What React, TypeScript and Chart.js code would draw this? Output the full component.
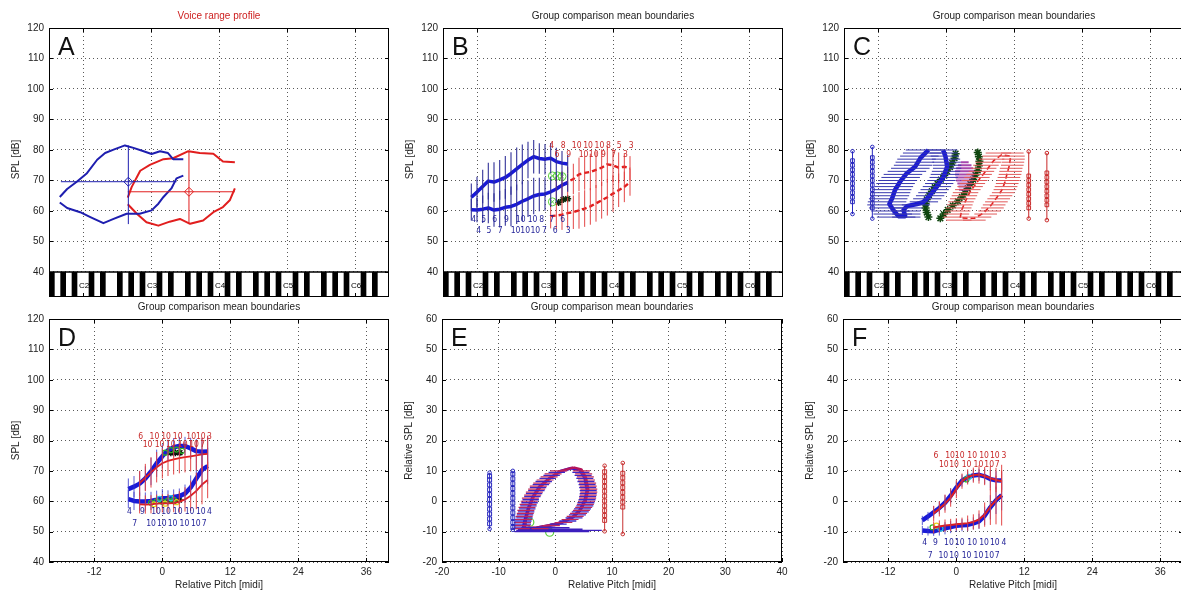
import React, { useEffect, useRef } from "react";
import { Chart, registerables } from "chart.js";

Chart.register(...registerables);

const FONT = '"Liberation Sans", Arial, Helvetica, sans-serif';
const NUM_FONT = '"Liberation Sans Narrow", "DejaVu Sans Condensed", "Liberation Sans", Arial, sans-serif';
const W = 1200;
const H = 594;

// ---------- tick labels / categories ----------
const PITCH_TICKS = [36, 48, 60, 72, 84];
const KEY_LABELS = ["C2", "C3", "C4", "C5", "C6"];
const SPL_TICKS = [40, 50, 60, 70, 80, 90, 100, 110, 120];
const REL_PITCH_TICKS = [-12, 0, 12, 24, 36];
const E_PITCH_TICKS = [-20, -10, 0, 10, 20, 30, 40];
const REL_SPL_TICKS = [-20, -10, 0, 10, 20, 30, 40, 50, 60];
const TITLE_A = "Voice range profile";
const TITLE_G = "Group comparison mean boundaries";

// ---------- Panel A ----------
const A_blueUpX = [31.9, 33.2, 34.9, 36.7, 38.5, 39.9, 41.4, 43.4, 44.9, 46.7, 48.1, 49.6, 51.0, 51.9, 53.7];
const A_blueUpY = [64.6, 67.2, 69.6, 72.4, 76.8, 79.0, 80.1, 81.5, 80.7, 79.6, 78.7, 79.6, 79.0, 77.0, 77.0];
const A_blueLoX = [31.9, 33.2, 35.5, 37.3, 39.6, 41.4, 43.7, 46.0, 48.1, 49.3, 50.2, 51.6, 52.5, 53.7];
const A_blueLoY = [62.8, 61.0, 59.6, 58.0, 56.0, 57.4, 59.1, 59.1, 60.2, 62.4, 64.6, 67.4, 70.7, 71.6];
const A_blueMean = [44.0, 69.6];
const A_blueRangeX = [32.1, 52.5];
const A_blueRangeY = [55.7, 81.5];
const A_redUpX = [43.9, 44.6, 46.1, 47.8, 50.2, 51.9, 54.6, 56.6, 59.0, 60.7, 62.8];
const A_redUpY = [64.4, 67.9, 73.2, 75.1, 77.0, 77.3, 79.6, 79.0, 78.8, 76.2, 76.0];
const A_redLoX = [43.9, 45.5, 47.2, 49.3, 51.3, 53.1, 54.9, 57.2, 59.0, 60.7, 61.9, 62.8];
const A_redLoY = [62.2, 59.1, 56.3, 55.2, 56.5, 57.4, 55.8, 56.9, 59.6, 61.3, 63.5, 67.4];
const A_redMean = [54.7, 66.3];
const A_redRangeX = [43.9, 62.8];
const A_redRangeY = [55.7, 79.6];

// ---------- Panel B ----------
const B_blueX = [35, 36, 37, 38, 39, 40, 41, 42, 43, 44, 45, 46, 47, 48, 49, 50, 51, 52];
const B_blueUp = [64.5, 66.2, 68.0, 69.8, 69.5, 70.2, 71.0, 72.3, 73.8, 75.3, 76.7, 77.8, 77.2, 77.0, 77.3, 76.2, 75.7, 75.4];
const B_blueLo = [60.4, 60.3, 60.6, 61.0, 60.3, 60.6, 61.2, 61.5, 62.2, 63.2, 64.0, 64.9, 65.4, 65.6, 66.3, 67.2, 68.5, 69.3];
const B_blueUpSd = [4.5, 5, 5.5, 6, 6.5, 6.5, 7, 7, 7, 6.5, 6, 5.5, 5, 5, 5, 4.5, 4, 3];
const B_blueLoSd = [3.5, 4, 4.5, 5, 5.5, 6, 6, 6.5, 6.5, 6.5, 6, 6, 5.5, 5.5, 5, 4.5, 4, 3];
const B_redUpX = [50, 51, 52, 53, 54, 55, 56, 57, 58, 59, 60, 61, 62, 63];
const B_redUp = [67.5, 68.5, 69.5, 70.5, 72.0, 72.5, 72.8, 73.5, 74.2, 75.3, 75.0, 74.2, 74.5, 74.0];
const B_redUpSd = [4, 4.5, 5, 5, 5.5, 5.5, 6, 6, 6, 6, 5.5, 5, 4.5, 4];
const B_redLoX = [49, 50, 51, 52, 53, 54, 55, 56, 57, 58, 59, 60, 61, 62, 63];
const B_redLo = [58.3, 58.5, 58.8, 59.3, 59.6, 60.2, 60.8, 61.5, 62.5, 63.5, 64.5, 65.7, 66.8, 67.9, 69.5];
const B_redLoSd = [4, 4.5, 5, 5, 5.5, 6, 6, 6, 6, 6, 6, 6, 5.5, 5, 4.5];
const B_greenX = [49.3, 50.2, 51.0, 49.3];
const B_greenY = [71.5, 71.5, 71.3, 63.0];
const B_starX = [50.4, 51.2, 52.0];
const B_starY = [62.8, 63.8, 64.0];
const B_blueN1X = [35.4, 37.2, 39.1, 41.2, 43.7, 45.8, 47.4, 49.2, 51.1];
const B_blueN1 = ["4", "5", "6", "9", "10", "10", "8", "7", "6"];
const B_blueN2X = [36.3, 38.1, 40.1, 42.8, 44.5, 46.3, 47.9, 49.8, 52.1];
const B_blueN2 = ["4", "5", "7", "10", "10", "10", "7", "6", "3"];
const B_redN1X = [49.2, 51.2, 53.6, 55.6, 57.6, 59.2, 61.1, 63.2];
const B_redN1 = ["4", "8", "10", "10", "10", "8", "5", "3"];
const B_redN2X = [50.1, 52.2, 54.8, 56.6, 58.3, 60.1, 62.2];
const B_redN2 = ["6", "9", "10", "10", "9", "7", "3"];
const B_numY = [57.1, 53.5, 81.5, 78.4];

// ---------- Panel C ----------
const C_blueLoopX = [47.5, 47.9, 48.2, 47.6, 46.4, 45.2, 44.1, 42.9, 41.1, 40.5, 40.8, 39.6, 38.7, 38.0, 38.5, 39.0, 39.9, 41.1, 42.6, 43.5, 44.9];
const C_blueLoopY = [79.9, 77.9, 74.6, 71.3, 68.0, 65.2, 63.0, 62.3, 61.6, 60.3, 58.3, 58.3, 60.3, 62.3, 64.2, 66.9, 69.6, 72.4, 74.6, 77.4, 80.0];
const C_blueLev = [58, 59, 60, 61, 62, 63, 64, 65, 66, 67, 68, 69, 70, 71, 72, 73, 74, 75, 76, 77, 78, 79, 80];
const C_bLlo = [35.8, 35.2, 34.8, 34.4, 34.1, 34.2, 34.4, 34.7, 34.9, 35.1, 35.4, 35.7, 36.1, 36.6, 37.0, 37.7, 38.3, 38.8, 39.1, 39.4, 39.9, 40.4, 40.9];
const C_bLhi = [42.6, 42.0, 41.6, 41.2, 40.9, 41.0, 41.2, 41.5, 41.7, 41.9, 42.2, 42.5, 42.9, 43.4, 43.8, 44.5, 45.1, 45.6, 45.9, 46.2, 46.7, 47.2, 47.7];
const C_bRlo = [38.5, 38.5, 38.5, 38.8, 40.2, 41.6, 42.2, 42.7, 43.1, 43.5, 43.9, 44.3, 44.7, 45.1, 45.3, 45.5, 45.7, 45.7, 45.6, 45.5, 45.3, 45.1, 45.0];
const C_bRhi = [43.5, 43.5, 43.5, 43.8, 45.2, 46.6, 47.2, 47.7, 48.1, 48.5, 48.9, 49.3, 49.7, 50.1, 50.3, 50.5, 50.7, 50.7, 50.6, 50.5, 50.3, 50.1, 50.0];
const C_redLoopX = [50.5, 50.8, 51.5, 52.3, 53.5, 55.0, 56.4, 57.8, 59.4, 59.2, 58.8, 58.4, 57.9, 57.0, 56.0, 54.6, 53.0, 51.8, 50.5];
const C_redLoopY = [57.8, 60.5, 63.5, 66.5, 69.5, 73.0, 76.5, 78.4, 78.0, 75.0, 72.4, 69.5, 67.0, 64.5, 62.0, 59.3, 57.6, 57.6, 57.8];
const C_redLev = [57, 58, 59, 60, 61, 62, 63, 64, 65, 66, 67, 68, 69, 70, 71, 72, 73, 74, 75, 76, 77, 78, 79];
const C_rLlo = [48.0, 47.5, 47.6, 47.8, 48.0, 48.2, 48.4, 48.7, 49.0, 49.2, 49.6, 50.0, 50.4, 50.8, 51.2, 51.6, 52.0, 52.4, 52.8, 53.2, 53.8, 54.4, 55.0];
const C_rLhi = [52.5, 52.0, 52.1, 52.3, 52.5, 52.7, 52.9, 53.2, 53.5, 53.7, 54.1, 54.5, 54.9, 55.3, 55.7, 56.1, 56.5, 56.9, 57.3, 57.7, 58.3, 58.9, 59.5];
const C_rRlo = [51.0, 52.0, 53.0, 53.7, 54.2, 54.5, 54.9, 55.3, 55.7, 56.1, 56.4, 56.6, 56.8, 57.0, 57.1, 57.3, 57.4, 57.5, 57.7, 57.8, 57.9, 57.9, 57.7];
const C_rRhi = [55.0, 56.0, 57.0, 57.7, 58.2, 58.5, 58.9, 59.3, 59.7, 60.1, 60.4, 60.6, 60.8, 61.0, 61.1, 61.3, 61.4, 61.5, 61.7, 61.8, 61.9, 61.9, 61.7];
const C_magLev = [67, 68, 69, 70, 71, 72, 73, 74, 75, 76];
const C_magLo = [50.3, 50.2, 50.0, 49.8, 49.7, 49.6, 49.6, 49.8, 50.1, 50.6];
const C_magHi = [52.0, 52.4, 52.6, 52.8, 52.9, 53.0, 53.0, 52.8, 52.5, 52.0];
const C_g1X = [44.9, 44.6, 44.4, 44.4, 44.6, 45.0, 45.5, 46.0, 46.5, 47.1, 47.7, 48.2, 48.7, 49.1, 49.5, 49.7];
const C_g1Y = [58.0, 59.5, 61.0, 62.4, 63.8, 65.2, 66.5, 67.8, 69.0, 70.3, 71.6, 73.0, 74.4, 75.8, 77.3, 78.8];
const C_g2X = [47.0, 47.6, 48.3, 49.2, 50.1, 50.8, 51.3, 51.8, 52.3, 52.8, 53.2, 53.6, 53.8, 53.9, 53.8, 53.6];
const C_g2Y = [57.6, 59.0, 60.4, 61.8, 63.2, 64.6, 66.0, 67.4, 68.8, 70.3, 71.8, 73.3, 74.8, 76.3, 77.8, 79.2];
const C_boxX = [31.5, 35.0, 62.6, 65.8];
const C_boxLo = [59.0, 57.5, 57.5, 57.0];
const C_boxHi = [79.6, 81.0, 79.5, 79.0];
const C_boxSq1 = [63, 64.5, 66, 67.5, 69, 70.5, 72, 73.5, 75, 76.5];
const C_boxSq2 = [61, 62.5, 64, 65.5, 67, 68.5, 70, 71.5, 73, 74.5, 76, 77.5];
const C_boxSq3 = [61, 62.5, 64, 65.5, 67, 68.5, 70, 71.5];
const C_boxSq4 = [62, 63.5, 65, 66.5, 68, 69.5, 71, 72.5];

// ---------- Panel D ----------
const D_blueX = [-6, -5, -4, -3, -2, -1, 0, 1, 2, 3, 4, 5, 6, 7, 8];
const D_blueUp = [64.0, 64.8, 65.8, 67.5, 69.8, 72.5, 74.8, 76.8, 77.8, 78.2, 78.2, 77.4, 76.5, 76.3, 76.4];
const D_blueLo = [60.7, 60.1, 59.9, 59.9, 60.1, 60.5, 61.0, 61.1, 61.4, 61.7, 62.5, 64.5, 67.5, 70.3, 71.6];
const D_blueUpSd = [3.5, 3.5, 4, 4, 4.5, 4.5, 4, 3.5, 3, 3, 3, 3.5, 4, 4.5, 5];
const D_blueLoSd = [3, 3, 3, 3, 3, 3, 3, 2.5, 2.5, 2.5, 3, 4, 5, 5.5, 6];
const D_redX = [-4, -3, -2, -1, 0, 1, 2, 3, 4, 5, 6, 7, 8];
const D_redUp = [66.0, 67.8, 69.5, 71.2, 72.5, 73.3, 73.8, 74.2, 74.5, 74.8, 75.1, 75.4, 75.6];
const D_redLo = [59.0, 58.9, 59.0, 59.2, 59.3, 59.3, 59.4, 59.8, 60.6, 61.8, 63.4, 65.5, 67.0];
const D_redUpSd = [4, 4.5, 5, 5, 5, 5, 5, 5, 5, 5, 5, 5.5, 6];
const D_redLoSd = [3, 3, 3, 3, 3, 3, 3, 3.5, 4, 5, 6, 6.5, 6];
const D_dotX = [-2, -1, 0, 1, 2, -1.5, 0.5, 2.5, -0.5, 1.5, 0.5, 1.5, 2.5, 3.5];
const D_dotY = [59.5, 60.0, 59.8, 60.2, 60.5, 59.0, 59.2, 59.7, 60.8, 61.0, 76.0, 76.8, 77.0, 76.6];
const D_dotC = ["rgb(40,180,40)", "rgb(40,180,40)", "rgb(40,180,40)", "rgb(40,180,40)", "rgb(40,180,40)", "rgb(230,210,30)", "rgb(230,210,30)", "rgb(230,210,30)", "rgb(40,200,220)", "rgb(40,200,220)", "rgb(40,180,40)", "rgb(40,180,40)", "rgb(40,180,40)", "rgb(40,180,40)"];
const D_starX = [0, 1, 2, 3, 1.5, 2.3, 3.1];
const D_starY = [60.2, 60.3, 60.1, 60.4, 76.0, 76.0, 76.0];
const D_redN1X = [-3.8, -1.4, 0.65, 2.7, 5.1, 6.8, 8.3];
const D_redN1 = ["6", "10", "10", "10", "10", "10", "3"];
const D_redN2X = [-2.6, -0.5, 1.5, 3.6, 5.6, 7.1];
const D_redN2 = ["10", "10", "10", "10", "10", "7"];
const D_blueN1X = [-5.8, -3.5, -1.1, 0.65, 2.7, 4.8, 6.8, 8.3];
const D_blueN1 = ["4", "9", "10", "10", "10", "10", "10", "4"];
const D_blueN2X = [-4.9, -2.0, -0.1, 1.8, 3.9, 5.9, 7.4];
const D_blueN2 = ["7", "10", "10", "10", "10", "10", "7"];
const D_numY = [81.3, 78.6, 56.6, 52.7];

// ---------- Panel E ----------
const E_blueLoopX = [2.8, 0.8, -1.0, -2.8, -4.0, -4.8, -5.4, -5.7, -3.4, -1.0, 1.3, 3.1, 4.3, 5.2, 5.6, 5.2, 4.3, 2.8];
const E_blueLoopY = [10.9, 9.8, 7.6, 4.8, 1.4, -2.4, -6.3, -9.1, -8.8, -8.0, -6.9, -5.2, -3.0, 0.3, 3.7, 7.6, 10.3, 10.9];
const E_redLoopX = [3.2, 1.0, -0.8, -2.5, -3.8, -4.6, -5.2, -5.4, -3.2, -0.8, 1.5, 3.3, 4.5, 5.4, 5.8, 5.4, 4.6, 3.2];
const E_redLoopY = [11.1, 10.0, 7.8, 5.0, 1.6, -2.2, -6.1, -8.9, -8.6, -7.8, -6.7, -5.0, -2.8, 0.5, 3.9, 7.8, 10.5, 11.1];
const E_barLev = [-9, -8, -7, -6, -5, -4, -3, -2, -1, 0, 1, 2, 3, 4, 5, 6, 7, 8, 9, 10];
const E_redLlo = [-7.5, -7.4, -7.3, -7.2, -7.0, -6.8, -6.7, -6.5, -6.3, -6.1, -5.9, -5.5, -5.2, -4.8, -4.5, -3.9, -3.3, -2.6, -1.9, -0.9];
const E_redLhi = [-4.5, -4.4, -4.3, -4.1, -4.0, -3.8, -3.7, -3.5, -3.3, -3.1, -2.9, -2.5, -2.2, -1.8, -1.5, -0.9, -0.3, 0.4, 1.1, 2.1];
const E_redRlo = [-4.2, -2.2, 0.0, 1.1, 2.0, 2.6, 3.1, 3.5, 3.8, 4.0, 4.2, 4.3, 4.4, 4.4, 4.3, 4.2, 4.0, 3.8, 3.5, 3.1];
const E_redRhi = [-1.2, 0.8, 3.0, 4.1, 5.0, 5.6, 6.1, 6.5, 6.8, 7.0, 7.2, 7.3, 7.4, 7.4, 7.3, 7.2, 7.0, 6.8, 6.5, 6.1];
const E_blueBarLev = [-8.5, -7.5, -6.5, -5.5, -4.5, -3.5, -2.5, -1.5, -0.5, 0.5, 1.5, 2.5, 3.5, 4.5, 5.5, 6.5, 7.5, 8.5, 9.5];
const E_blueLlo = [-7.3, -7.2, -7.1, -6.9, -6.8, -6.6, -6.4, -6.2, -6.0, -5.8, -5.5, -5.2, -4.8, -4.5, -4.0, -3.5, -2.8, -2.1, -1.2];
const E_blueLhi = [-4.4, -4.3, -4.2, -4.0, -3.9, -3.7, -3.5, -3.3, -3.1, -2.9, -2.6, -2.3, -1.9, -1.6, -1.1, -0.6, 0.1, 0.8, 1.7];
const E_blueRlo = [-3.0, -1.0, 0.7, 1.8, 2.4, 2.9, 3.3, 3.7, 3.9, 4.1, 4.2, 4.3, 4.3, 4.2, 4.1, 3.9, 3.7, 3.4, 3.0];
const E_blueRhi = [0.0, 2.0, 3.7, 4.8, 5.4, 5.9, 6.3, 6.7, 6.9, 7.1, 7.2, 7.3, 7.3, 7.2, 7.1, 6.9, 6.7, 6.4, 6.0];
const E_botLev = [-10.0, -9.6, -9.2, -8.7];
const E_botLo = [-7.2, -6.9, -6.6, -6.0];
const E_botHi = [6.0, 8.2, 4.8, 2.5];
const E_boxX = [-11.6, -7.5, 8.7, 11.9];
const E_boxLo = [-9.1, -9.4, -9.9, -10.8];
const E_boxHi = [9.4, 10.0, 11.7, 12.6];
const E_boxSq1 = [-7.4, -5.8, -4.2, -2.6, -1.0, 0.6, 2.2, 3.8, 5.4, 7.0, 8.3];
const E_boxSq2 = [-8.6, -7.0, -5.4, -3.8, -2.2, -0.6, 1.0, 2.6, 4.2, 5.8, 7.4, 9.0];
const E_boxSq3 = [-6.3, -4.7, -3.1, -1.5, 0.1, 1.7, 3.3, 4.9, 6.5, 8.1, 9.7];
const E_boxSq4 = [-1.9, -0.3, 1.3, 2.9, 4.5, 6.1, 7.7, 9.2];
const E_greenX = [-4.5, -1.0];
const E_greenY = [-6.9, -10.2];

// ---------- Panel F ----------
const F_blueX = [-6, -5, -4, -3, -2, -1, 0, 1, 2, 3, 4, 5, 6, 7, 8];
const F_blueUp = [-6.3, -5.0, -3.6, -2.2, -0.5, 1.8, 4.5, 6.8, 7.9, 8.5, 8.7, 8.2, 7.3, 6.9, 6.8];
const F_blueLo = [-9.6, -9.8, -9.9, -9.3, -8.9, -8.5, -8.1, -7.9, -7.8, -7.3, -6.6, -4.8, -2.0, 0.3, 2.0];
const F_blueUpSd = [1.5, 1.5, 2, 2, 2.5, 2.5, 2, 2, 2, 2, 2, 2.5, 3, 3, 3];
const F_blueLoSd = [1.5, 1.5, 1.5, 2, 2, 2, 2, 2, 2, 2, 2.5, 3, 4, 4.5, 5];
const F_redX = [-4, -3, -2, -1, 0, 1, 2, 3, 4, 5, 6, 7, 8];
const F_redUp = [-4.0, -2.5, -0.8, 1.2, 4.0, 6.6, 8.0, 8.6, 8.8, 8.3, 7.6, 7.0, 6.6];
const F_redLo = [-8.6, -8.3, -8.0, -7.8, -7.6, -7.4, -7.2, -6.8, -6.0, -4.4, -1.8, 0.4, 2.0];
const F_redUpSd = [2.5, 2.5, 3, 3, 3, 2.5, 2.5, 2.5, 3, 3, 4, 4, 3.5];
const F_redLoSd = [2, 2, 2, 2, 2, 2, 2.5, 2.5, 3, 4, 6, 8, 10];
const F_dotX = [-4.2, -3.5, -2.8, 1.8, 2.2];
const F_dotY = [-8.6, -8.0, -9.0, 7.2, 8.0];
const F_dotC = ["rgb(40,180,40)", "rgb(230,210,30)", "rgb(40,200,220)", "rgb(40,180,40)", "rgb(40,200,220)"];
const F_redN1X = [-3.6, -1.1, 0.6, 2.8, 4.9, 6.8, 8.4];
const F_redN1 = ["6", "10", "10", "10", "10", "10", "3"];
const F_redN2X = [-2.2, -0.4, 1.8, 3.9, 5.8, 7.2];
const F_redN2 = ["10", "10", "10", "10", "10", "7"];
const F_blueN1X = [-5.6, -3.7, -1.3, 0.6, 2.8, 4.9, 6.8, 8.4];
const F_blueN1 = ["4", "9", "10", "10", "10", "10", "10", "4"];
const F_blueN2X = [-4.6, -2.3, -0.4, 1.8, 3.9, 5.8, 7.2];
const F_blueN2 = ["7", "10", "10", "10", "10", "10", "7"];
const F_numY = [14.8, 12.0, -13.6, -18.0];

// ---------- colours ----------
const BLUE = "rgb(25,25,215)";
const BLUE_A = "rgb(30,30,175)";
const BLUE_BAR = "rgba(45,45,150,0.9)";
const RED = "rgb(225,30,30)";
const RED_BAR = "rgba(225,60,60,0.95)";
const GREEN_DK = "rgb(15,70,15)";
const NUM_BLUE = "rgb(30,30,150)";
const NUM_RED = "rgb(200,40,40)";
const MAGENTA = "rgba(150,40,160,0.85)";

// ---------- dataset builders ----------
function L(xs: number[], ys: number[], color: string, width: number, dash: number[] = []) {
  return {
    data: xs.map((x, i) => ({ x, y: ys[i] })),
    showLine: true,
    spanGaps: false,
    pointRadius: 0,
    pointHoverRadius: 0,
    borderColor: color,
    backgroundColor: color,
    borderWidth: width,
    borderDash: dash,
    borderJoinStyle: "round",
    fill: false,
  };
}
function VB(xs: number[], c: number[], h: number[], color: string, width: number) {
  const data: any[] = [];
  xs.forEach((x, i) => {
    data.push({ x, y: c[i] - h[i] }, { x, y: c[i] + h[i] }, { x, y: null });
  });
  return { data, showLine: true, spanGaps: false, pointRadius: 0, pointHoverRadius: 0, borderColor: color, borderWidth: width, fill: false };
}
function HB(lev: number[], lo: number[], hi: number[], color: string, width: number) {
  const data: any[] = [];
  lev.forEach((y, i) => {
    data.push({ x: lo[i], y }, { x: hi[i], y }, { x: hi[i], y: null });
  });
  return { data, showLine: true, spanGaps: false, pointRadius: 0, pointHoverRadius: 0, borderColor: color, borderWidth: width, fill: false };
}
function P(xs: number[], ys: number[], style: string, color: any, r: number, bw = 1, fill: any = "rgba(0,0,0,0)") {
  return {
    data: xs.map((x, i) => ({ x, y: ys[i] })),
    showLine: false,
    pointStyle: style,
    pointRadius: r,
    pointHoverRadius: r,
    pointBorderColor: color,
    pointBackgroundColor: fill,
    pointBorderWidth: bw,
    borderColor: color,
    backgroundColor: fill,
  };
}
function boxCol(x: number, lo: number, hi: number, sq: number[], color: string, r: number) {
  return [
    L([x, x], [lo, hi], color, 1),
    P(sq.map(() => x), sq, "rect", color, r, 1),
    P([x, x], [lo, hi], "circle", color, 1.8, 1),
  ];
}

// ---------- panels ----------
function dsA() {
  return [
    L(A_blueRangeX, [A_blueMean[1], A_blueMean[1]], BLUE_A, 1),
    L([A_blueMean[0], A_blueMean[0]], A_blueRangeY, BLUE_A, 1),
    L(A_redRangeX, [A_redMean[1], A_redMean[1]], RED, 1),
    L([A_redMean[0], A_redMean[0]], A_redRangeY, RED, 1),
    L(A_blueUpX, A_blueUpY, BLUE_A, 2),
    L(A_blueLoX, A_blueLoY, BLUE_A, 2),
    L(A_redUpX, A_redUpY, RED, 2),
    L(A_redLoX, A_redLoY, RED, 2),
    P([A_blueMean[0]], [A_blueMean[1]], "rectRot", BLUE_A, 4.5, 1),
    P([A_redMean[0]], [A_redMean[1]], "rectRot", RED, 4.5, 1),
  ];
}
function dsB() {
  return [
    VB(B_blueX, B_blueUp, B_blueUpSd, BLUE_BAR, 1.2),
    VB(B_blueX, B_blueLo, B_blueLoSd, BLUE_BAR, 1.2),
    VB(B_redUpX, B_redUp, B_redUpSd, RED_BAR, 1),
    VB(B_redLoX, B_redLo, B_redLoSd, RED_BAR, 1),
    L(B_blueX, B_blueUp, BLUE, 3.5),
    L(B_blueX, B_blueLo, BLUE, 3.5),
    L(B_redUpX, B_redUp, RED, 2.4, [5, 3]),
    L(B_redLoX, B_redLo, RED, 2.4, [5, 3]),
    P(B_greenX, B_greenY, "circle", "rgb(90,210,60)", 4, 1),
    P(B_greenX, B_greenY, "crossRot", "rgb(90,210,60)", 3, 1),
    P(B_starX, B_starY, "star", "rgb(10,40,10)", 3.5, 1.5),
  ];
}
function dsC() {
  return [
    HB(C_blueLev, C_bLlo, C_bLhi, "rgb(55,55,175)", 1),
    HB(C_blueLev, C_bRlo, C_bRhi, "rgb(55,55,175)", 1),
    HB(C_redLev, C_rLlo, C_rLhi, "rgb(225,90,90)", 1),
    HB(C_redLev, C_rRlo, C_rRhi, "rgb(225,90,90)", 1),
    HB(C_magLev, C_magLo, C_magHi, MAGENTA, 2),
    L(C_blueLoopX, C_blueLoopY, BLUE, 4.5),
    L(C_redLoopX, C_redLoopY, RED, 1.6, [5, 3]),
    L(C_g1X, C_g1Y, GREEN_DK, 1.5),
    L(C_g2X, C_g2Y, GREEN_DK, 1.5),
    P(C_g1X, C_g1Y, "star", GREEN_DK, 4, 1.5),
    P(C_g2X, C_g2Y, "star", GREEN_DK, 4, 1.5),
    ...boxCol(C_boxX[0], C_boxLo[0], C_boxHi[0], C_boxSq1, "rgb(40,40,190)", 2.6),
    ...boxCol(C_boxX[1], C_boxLo[1], C_boxHi[1], C_boxSq2, "rgb(40,40,190)", 2.6),
    ...boxCol(C_boxX[2], C_boxLo[2], C_boxHi[2], C_boxSq3, "rgb(200,40,40)", 2.6),
    ...boxCol(C_boxX[3], C_boxLo[3], C_boxHi[3], C_boxSq4, "rgb(200,40,40)", 2.6),
  ];
}
function dsD() {
  return [
    VB(D_redX, D_redUp, D_redUpSd, RED_BAR, 1),
    VB(D_redX, D_redLo, D_redLoSd, RED_BAR, 1),
    VB(D_blueX, D_blueUp, D_blueUpSd, "rgba(50,50,200,0.8)", 1),
    VB(D_blueX, D_blueLo, D_blueLoSd, "rgba(50,50,200,0.8)", 1),
    L(D_redX, D_redUp, RED, 1.8),
    L(D_redX, D_redLo, RED, 1.8),
    P(D_dotX, D_dotY, "circle", D_dotC, 2.5, 1.2),
    L(D_blueX, D_blueUp, BLUE, 4.5),
    L(D_blueX, D_blueLo, BLUE, 4.5),
    P(D_starX, D_starY, "star", "rgb(10,20,10)", 3.5, 1.5),
  ];
}
function dsE() {
  return [
    ...boxCol(E_boxX[0], E_boxLo[0], E_boxHi[0], E_boxSq1, "rgb(40,40,190)", 2.8),
    ...boxCol(E_boxX[1], E_boxLo[1], E_boxHi[1], E_boxSq2, "rgb(40,40,190)", 2.8),
    ...boxCol(E_boxX[2], E_boxLo[2], E_boxHi[2], E_boxSq3, "rgb(200,50,50)", 2.8),
    ...boxCol(E_boxX[3], E_boxLo[3], E_boxHi[3], E_boxSq4, "rgb(200,50,50)", 2.8),
    HB(E_barLev, E_redLlo, E_redLhi, "rgb(190,40,90)", 1.2),
    HB(E_barLev, E_redRlo, E_redRhi, "rgb(190,40,90)", 1.2),
    HB(E_blueBarLev, E_blueLlo, E_blueLhi, "rgb(60,40,200)", 1.3),
    HB(E_blueBarLev, E_blueRlo, E_blueRhi, "rgb(60,40,200)", 1.3),
    HB(E_botLev, E_botLo, E_botHi, "rgb(60,30,190)", 1.3),
    L(E_redLoopX, E_redLoopY, "rgb(180,20,90)", 2.5),
    L(E_blueLoopX, E_blueLoopY, "rgb(50,20,210)", 3),
    P(E_greenX, E_greenY, "circle", "rgb(90,210,60)", 4, 1.2),
  ];
}
function dsF() {
  return [
    VB(F_redX, F_redUp, F_redUpSd, RED_BAR, 1),
    VB(F_redX, F_redLo, F_redLoSd, RED_BAR, 1),
    VB(F_blueX, F_blueUp, F_blueUpSd, "rgba(50,50,200,0.8)", 1),
    VB(F_blueX, F_blueLo, F_blueLoSd, "rgba(50,50,200,0.8)", 1),
    L(F_redX, F_redUp, RED, 2),
    L(F_redX, F_redLo, RED, 2),
    P(F_dotX, F_dotY, "circle", F_dotC, 2.5, 1.2),
    L(F_blueX, F_blueUp, BLUE, 4.5),
    L(F_blueX, F_blueLo, BLUE, 4.5),
  ];
}

const PANELS: any[] = [
  {
    letter: "A", x0: 49, x1: 389, y0: 28, y1: 297, xMin: 30, xMax: 90, yMin: 31.8, yMax: 120,
    xTicks: PITCH_TICKS, yTicks: SPL_TICKS, keyboard: true, title: TITLE_A, titleColor: "rgb(205,30,30)",
    yLabel: "SPL [dB]", xLabel: null, datasets: dsA(), texts: [],
  },
  {
    letter: "B", x0: 443, x1: 783, y0: 28, y1: 297, xMin: 30, xMax: 90, yMin: 31.8, yMax: 120,
    xTicks: PITCH_TICKS, yTicks: SPL_TICKS, keyboard: true, title: TITLE_G, titleColor: "#222",
    yLabel: "SPL [dB]", xLabel: null, datasets: dsB(),
    texts: [
      { xs: B_blueN1X, y: B_numY[0], labels: B_blueN1, color: NUM_BLUE },
      { xs: B_blueN2X, y: B_numY[1], labels: B_blueN2, color: NUM_BLUE },
      { xs: B_redN1X, y: B_numY[2], labels: B_redN1, color: NUM_RED },
      { xs: B_redN2X, y: B_numY[3], labels: B_redN2, color: NUM_RED },
    ],
  },
  {
    letter: "C", x0: 844, x1: 1184, y0: 28, y1: 297, xMin: 30, xMax: 90, yMin: 31.8, yMax: 120,
    xTicks: PITCH_TICKS, yTicks: SPL_TICKS, keyboard: true, title: TITLE_G, titleColor: "#222",
    yLabel: "SPL [dB]", xLabel: null, datasets: dsC(), texts: [],
  },
  {
    letter: "D", x0: 49, x1: 389, y0: 319, y1: 562, xMin: -20, xMax: 40, yMin: 40, yMax: 120,
    xTicks: REL_PITCH_TICKS, yTicks: SPL_TICKS, keyboard: false, title: TITLE_G, titleColor: "#222",
    yLabel: "SPL [dB]", xLabel: "Relative Pitch [midi]", datasets: dsD(),
    texts: [
      { xs: D_redN1X, y: D_numY[0], labels: D_redN1, color: NUM_RED },
      { xs: D_redN2X, y: D_numY[1], labels: D_redN2, color: NUM_RED },
      { xs: D_blueN1X, y: D_numY[2], labels: D_blueN1, color: NUM_BLUE },
      { xs: D_blueN2X, y: D_numY[3], labels: D_blueN2, color: NUM_BLUE },
    ],
  },
  {
    letter: "E", x0: 442, x1: 782, y0: 319, y1: 562, xMin: -20, xMax: 40, yMin: -20, yMax: 60,
    xTicks: E_PITCH_TICKS, yTicks: REL_SPL_TICKS, keyboard: false, title: TITLE_G, titleColor: "#222",
    yLabel: "Relative SPL [dB]", xLabel: "Relative Pitch [midi]", datasets: dsE(), texts: [],
  },
  {
    letter: "F", x0: 843, x1: 1183, y0: 319, y1: 562, xMin: -20, xMax: 40, yMin: -20, yMax: 60,
    xTicks: REL_PITCH_TICKS, yTicks: REL_SPL_TICKS, keyboard: false, title: TITLE_G, titleColor: "#222",
    yLabel: "Relative SPL [dB]", xLabel: "Relative Pitch [midi]", datasets: dsF(),
    texts: [
      { xs: F_redN1X, y: F_numY[0], labels: F_redN1, color: NUM_RED },
      { xs: F_redN2X, y: F_numY[1], labels: F_redN2, color: NUM_RED },
      { xs: F_blueN1X, y: F_numY[2], labels: F_blueN1, color: NUM_BLUE },
      { xs: F_blueN2X, y: F_numY[3], labels: F_blueN2, color: NUM_BLUE },
    ],
  },
];

const BLACK_KEYS = [1, 3, 6, 8, 10];

function makePlugin(cfg: any) {
  return {
    id: "decor" + cfg.letter,
    beforeDatasetsDraw(chart: any) {
      if (!cfg.keyboard) return;
      const { ctx, chartArea: ca, scales } = chart;
      const xs = scales.x;
      const ys = scales.y;
      const top = ys.getPixelForValue(40);
      const bot = ca.bottom;
      ctx.save();
      ctx.beginPath();
      ctx.rect(ca.left, top, ca.right - ca.left, bot - top);
      ctx.clip();
      ctx.fillStyle = "#fff";
      ctx.fillRect(ca.left, top, ca.right - ca.left, bot - top);
      ctx.fillStyle = "#000";
      for (let n = Math.floor(xs.min) - 1; n <= Math.ceil(xs.max); n++) {
        const pc = ((n % 12) + 12) % 12;
        if (BLACK_KEYS.indexOf(pc) >= 0) {
          const xa = xs.getPixelForValue(n);
          const xb = xs.getPixelForValue(n + 1);
          ctx.fillRect(xa, top, xb - xa, bot - top);
        }
      }
      ctx.font = `8px ${FONT}`;
      ctx.textAlign = "center";
      ctx.textBaseline = "middle";
      ctx.fillStyle = "#000";
      PITCH_TICKS.forEach((n, i) => {
        ctx.fillText(KEY_LABELS[i], xs.getPixelForValue(n) + 1, (top + bot) / 2 + 1);
      });
      ctx.restore();
    },
    afterDraw(chart: any) {
      const { ctx, chartArea: ca, scales } = chart;
      const xs = scales.x;
      const ys = scales.y;
      ctx.save();
      // count labels
      ctx.font = `8.5px ${NUM_FONT}`;
      ctx.textAlign = "center";
      ctx.textBaseline = "middle";
      cfg.texts.forEach((row: any) => {
        ctx.fillStyle = row.color;
        row.xs.forEach((x: number, i: number) => {
          ctx.fillText(row.labels[i], xs.getPixelForValue(x), ys.getPixelForValue(row.y));
        });
      });
      // frame
      ctx.strokeStyle = "#000";
      ctx.lineWidth = 1;
      ctx.strokeRect(Math.round(ca.left) + 0.5, Math.round(ca.top) + 0.5, Math.round(ca.right - ca.left) - 1, Math.round(ca.bottom - ca.top) - 1);
      if (cfg.keyboard) {
        const y40 = Math.round(ys.getPixelForValue(40));
        ctx.lineWidth = 1.5;
        ctx.beginPath();
        ctx.moveTo(ca.left, y40);
        ctx.lineTo(ca.right, y40);
        ctx.stroke();
      }
      // inward ticks
      ctx.lineWidth = 1;
      ctx.beginPath();
      cfg.xTicks.forEach((v: number) => {
        const px = Math.round(xs.getPixelForValue(v)) + 0.5;
        ctx.moveTo(px, ca.bottom);
        ctx.lineTo(px, ca.bottom - 4);
        ctx.moveTo(px, ca.top);
        ctx.lineTo(px, ca.top + 4);
      });
      cfg.yTicks.forEach((v: number) => {
        const py = Math.round(ys.getPixelForValue(v)) + 0.5;
        ctx.moveTo(ca.left, py);
        ctx.lineTo(ca.left + 4, py);
        ctx.moveTo(ca.right, py);
        ctx.lineTo(ca.right - 4, py);
      });
      ctx.stroke();
      // panel letter
      ctx.fillStyle = "#111";
      ctx.font = `25px ${FONT}`;
      ctx.textAlign = "left";
      ctx.textBaseline = "alphabetic";
      ctx.fillText(cfg.letter, ca.left + 9, ca.top + 27);
      // title
      ctx.font = `10px ${FONT}`;
      ctx.textAlign = "center";
      ctx.textBaseline = "middle";
      ctx.fillStyle = cfg.titleColor;
      ctx.fillText(cfg.title, (ca.left + ca.right) / 2, ca.top - 12);
      // axis labels
      ctx.fillStyle = "#222";
      ctx.font = `10px ${FONT}`;
      if (cfg.xLabel) {
        ctx.fillText(cfg.xLabel, (ca.left + ca.right) / 2, ca.bottom + 23);
      }
      ctx.translate(ca.left - 33, (ca.top + ca.bottom) / 2 - (cfg.keyboard ? 3 : 0));
      ctx.rotate(-Math.PI / 2);
      ctx.fillText(cfg.yLabel, 0, 0);
      ctx.restore();
    },
  };
}

function buildConfig(cfg: any) {
  const YW = 36;
  const XH = cfg.keyboard ? 0 : 16;
  return {
    type: "scatter",
    data: { datasets: cfg.datasets },
    options: {
      animation: false,
      responsive: false,
      maintainAspectRatio: false,
      devicePixelRatio: 1,
      events: [],
      layout: { padding: { left: cfg.x0 - YW, top: cfg.y0, right: W - cfg.x1, bottom: H - cfg.y1 - XH } },
      plugins: { legend: { display: false }, tooltip: { enabled: false }, title: { display: false } },
      scales: {
        x: {
          type: "linear",
          min: cfg.xMin,
          max: cfg.xMax,
          afterBuildTicks: (s: any) => {
            s.ticks = cfg.xTicks.map((v: number) => ({ value: v }));
          },
          afterFit: (s: any) => {
            s.height = XH;
          },
          ticks: { display: !cfg.keyboard, color: "#222", font: { size: 10, family: FONT }, padding: 4, maxRotation: 0, autoSkip: false },
          grid: { color: "rgba(0,0,0,0.65)", lineWidth: 1, drawTicks: false },
          border: { display: false, dash: [1, 3] },
        },
        y: {
          type: "linear",
          min: cfg.yMin,
          max: cfg.yMax,
          afterBuildTicks: (s: any) => {
            s.ticks = cfg.yTicks.map((v: number) => ({ value: v }));
          },
          afterFit: (s: any) => {
            s.width = YW;
          },
          ticks: { color: "#222", font: { size: 10, family: FONT }, padding: 5, autoSkip: false },
          grid: { color: "rgba(0,0,0,0.65)", lineWidth: 1, drawTicks: false },
          border: { display: false, dash: [1, 3] },
        },
      },
    },
    plugins: [makePlugin(cfg)],
  };
}

function PanelChart({ cfg }: { cfg: any }) {
  const ref = useRef<HTMLCanvasElement | null>(null);
  useEffect(() => {
    const chart = new Chart(ref.current as any, buildConfig(cfg) as any);
    return () => chart.destroy();
  }, []);
  return <canvas ref={ref} width={W} height={H} style={{ position: "absolute", left: 0, top: 0, width: W, height: H }} />;
}

export default function App() {
  return (
    <div style={{ position: "fixed", left: 0, top: 0, width: 1181, height: 594, overflow: "hidden", background: "#fff", fontFamily: FONT }}>
      {PANELS.map((p) => (
        <PanelChart key={p.letter} cfg={p} />
      ))}
    </div>
  );
}
